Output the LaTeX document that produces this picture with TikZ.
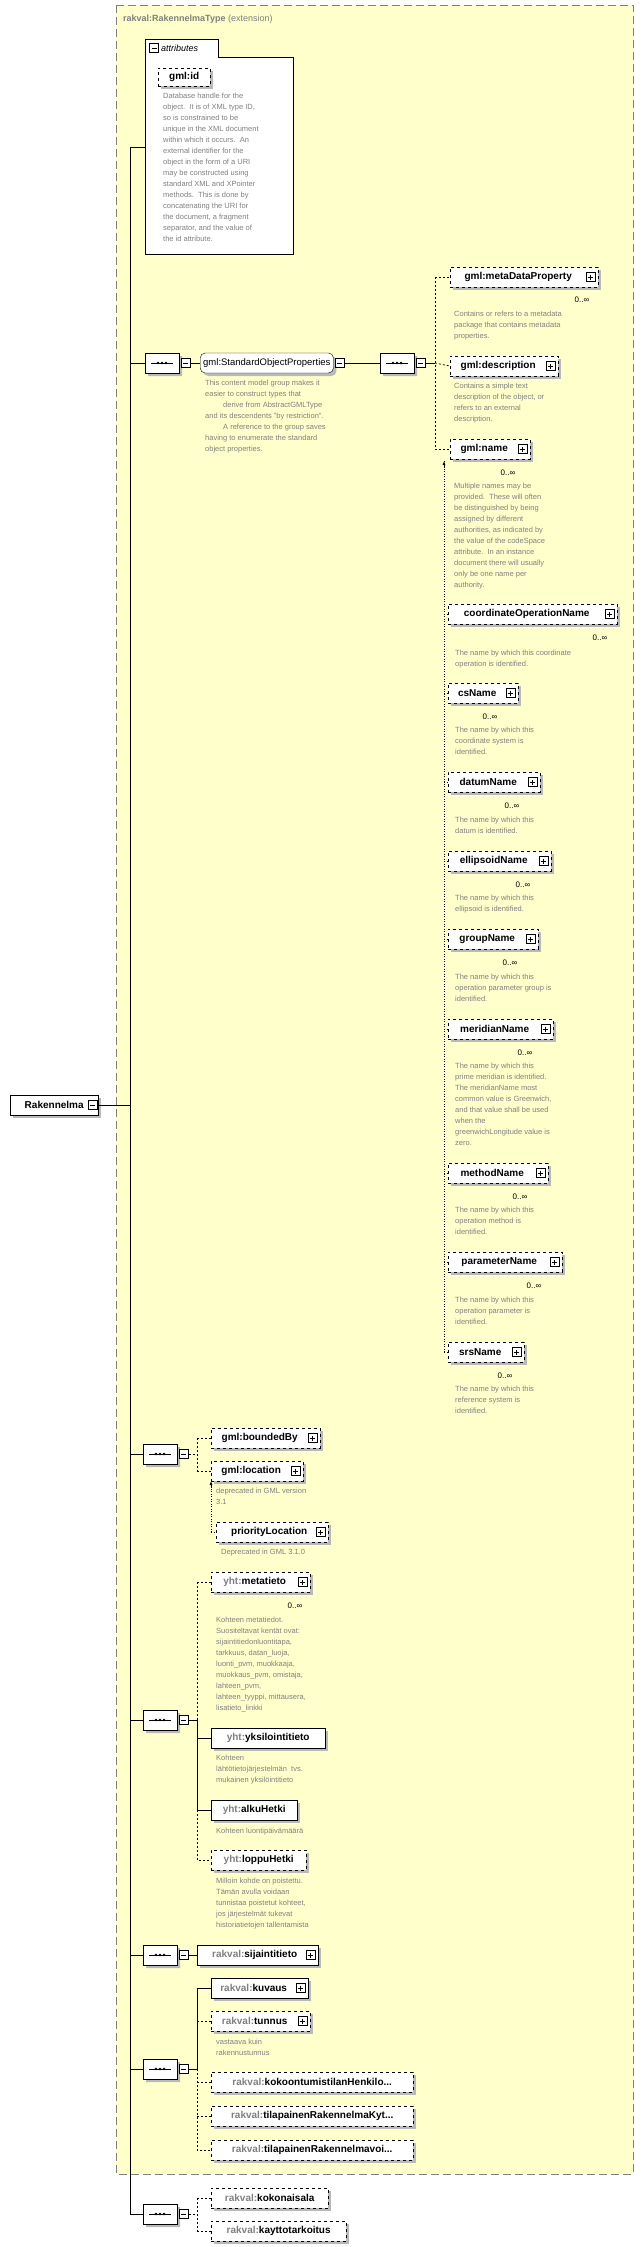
\documentclass[tikz,border=0pt]{standalone}
\usepackage{fontspec}
\setmainfont{Liberation Sans}
\usetikzlibrary{shapes.misc,shadows,positioning,arrows.meta}
\definecolor{ybg}{RGB}{255,255,204}
\definecolor{dgray}{RGB}{128,128,128}
\definecolor{pgray}{RGB}{128,128,128}
\newcommand\pf[1]{\textcolor{pgray}{#1}}
\tikzset{
 shd/.style={drop shadow={shadow xshift=3pt,shadow yshift=-3pt,fill=gray!55,opacity=1}},
 el/.style={draw,fill=white,shd,minimum height=20pt,inner sep=3pt,anchor=west,align=left,font=\fontsize{10}{12}\selectfont\bfseries},
 opt/.style={dashed},
 dsc/.style={anchor=north west,align=left,inner sep=0pt,text=dgray,font=\fontsize{7.5}{11}\selectfont},
 mult/.style={anchor=center,inner sep=0pt,font=\fontsize{8}{9}\selectfont},
 seq/.style={chamfered rectangle,chamfered rectangle xsep=4pt,chamfered rectangle ysep=0pt,draw,fill=white,shd,minimum width=34pt,minimum height=20pt,inner sep=0pt,
   path picture={\draw ([xshift=6pt]path picture bounding box.west)--([xshift=-6pt]path picture bounding box.east);
     \fill[black] (path picture bounding box.center) circle (1.4pt);
     \fill[black] ([xshift=-4pt]path picture bounding box.center) circle (1.4pt);
     \fill[black] ([xshift=4pt]path picture bounding box.center) circle (1.4pt);}},
 mbox/.style={draw,fill=white,minimum size=9pt,inner sep=0pt,path picture={\draw ([xshift=2pt]path picture bounding box.west)--([xshift=-2pt]path picture bounding box.east);}},
 pbox/.style={draw,fill=white,minimum size=9pt,inner sep=0pt,path picture={\draw ([xshift=2pt]path picture bounding box.west)--([xshift=-2pt]path picture bounding box.east);\draw ([yshift=-2pt]path picture bounding box.north)--([yshift=2pt]path picture bounding box.south);}},
 ln/.style={draw,line width=0.8pt},
 dln/.style={draw,dash pattern=on 2pt off 2pt,line width=0.7pt},
}
\newcommand\el[6]{\node[el,#5,minimum width=#4pt] (#1) at (#3,#2) {#6};}
\newcommand\elp[6]{\node[el,#5,minimum width=#4pt] (#1) at (#3,#2) {#6};\node[pbox] (#1p) at ([xshift=-8pt]#1.east) {};}
\newcommand\sq[3]{\node[seq] (#1) at (#2,#3) {};\node[mbox,right=2pt of #1] (#1m) {};}
\begin{document}
\begin{tikzpicture}[x=1pt,y=-1pt]
\useasboundingbox (0,0) rectangle (644,2247);
\fill[ybg] (116,5) rectangle (633,2174);
\draw[dgray,dash pattern=on 8pt off 4pt,line width=0.8pt] (116,5) rectangle (633,2174);
\node[anchor=west,inner sep=0pt,font=\fontsize{9}{10}\selectfont,text=dgray] (title) at (123,19) {\textbf{rakval:RakennelmaType} (extension)};
\node[el,minimum width=88pt] (root) at (10,1105) {Rakennelma};
\node[mbox] (rootm) at ([xshift=-6pt]root.east) {};
\coordinate (tr) at (130,1105);
\coordinate (ttop) at (130,147);
\coordinate (tbot) at (130,2214);
\draw[ln] (rootm.east) -- (tr);
\draw[ln] (ttop) -- (tbot);
\draw[fill=white,line width=0.8pt] (145,254) -- (145,39) -- (218,39) -- (218,57) -- (293,57) -- (293,254) -- cycle;
\node[mbox] (am) at (154,48) {};
\node[anchor=west,inner sep=0pt,font=\fontsize{9}{10}\selectfont\itshape] (atxt) at (161,48) {attributes};
\node[el,opt,minimum width=52pt,minimum height=18pt] (gid) at (158,77) {gml:id};
\node[dsc] (gidd) at (163,93) {Database handle for the\\object.\ \ It is of XML type ID,\\so is constrained to be\\unique in the XML document\\within which it occurs.\ \ An\\external identifier for the\\object in the form of a URI\\may be constructed using\\standard XML and XPointer\\methods.\ \ This is done by\\concatenating the URI for\\the document, a fragment\\separator, and the value of\\the id attribute.};
\coordinate (ta) at (130,147);
\draw[ln] (ta) -- (145,147);
\coordinate (t1) at (130,363);
\sq{s1}{162}{363}
\draw[ln] (t1) -- (s1.west);
\node[draw,fill=white,shd,rounded corners=5pt,minimum height=20pt,anchor=west,font=\fontsize{9.5}{11}\selectfont,inner sep=3pt] (sop) at (200,363) {gml:StandardObjectProperties};
\node[mbox,right=1pt of sop] (sopm) {};
\draw[ln] (s1m.east) -- (sop.west);
\node[dsc] (sopd) at (205,380) {This content model group makes it\\easier to construct types that\\\hspace*{18pt}derive from AbstractGMLType\\and its descendents "by restriction".\\\hspace*{18pt}A reference to the group saves\\having to enumerate the standard\\object properties.};
\sq{s2}{397}{363}
\draw[ln] (sopm.east) -- (s2.west);
\coordinate (c2) at (435,363);
\draw[ln] (s2m.east) -- (c2);
\elp{md}{277}{450}{148}{opt}{gml:metaDataProperty\hspace*{12pt}}
\elp{de}{366}{450}{108}{opt}{gml:description\hspace*{12pt}}
\elp{nm}{449}{450}{80}{opt}{gml:name\hspace*{12pt}}
\coordinate (c2t) at (435,277); \coordinate (c2b) at (435,449);
\draw[dln] (c2t) -- (c2b);
\draw[dln] (c2t) -- (md.west); \draw[dln] (c2b) -- (nm.west); \draw[dln] (c2) -- (de.west);
\node[mult] (mdm) at (582,300) {0..∞};
\node[dsc] (mdd) at (454,311) {Contains or refers to a metadata\\package that contains metadata\\properties.};
\node[dsc] (ded) at (454,383) {Contains a simple text\\description of the object, or\\refers to an external\\description.};
\node[mult] (nmm) at (508,473) {0..∞};
\node[dsc] (nmd) at (454,483) {Multiple names may be\\provided.\ \ These will often\\be distinguished by being\\assigned by different\\authorities, as indicated by\\the value of the codeSpace\\attribute.\ \ In an instance\\document there will usually\\only be one name per\\authority.};
\coordinate (subt) at (444,461); \coordinate (subb) at (444,1352);
\draw[dln,dash pattern=on 1pt off 1.5pt] (subt) -- (subb);
\draw[-{Latex[length=4pt]},line width=0.7pt] (444,468) -- (subt);
\newcommand\sub[5]{\elp{#1}{#2}{448}{#3}{opt}{#4\hspace*{12pt}}\node[mult] (#1m) at (#5,#2+24) {0..∞};\draw[dln,dash pattern=on 1pt off 1.5pt] (444,#2) -- (#1.west);}
\sub{co}{614}{169}{coordinateOperationName}{600}
\node[dsc] (cod) at (455,650) {The name by which this coordinate\\operation is identified.};
\sub{cs}{693}{70}{csName}{490}
\node[dsc] (csd) at (455,727) {The name by which this\\coordinate system is\\identified.};
\sub{da}{782}{92}{datumName}{512}
\node[dsc] (dad) at (455,817) {The name by which this\\datum is identified.};
\sub{ep}{861}{103}{ellipsoidName}{523}
\node[dsc] (epd) at (455,895) {The name by which this\\ellipsoid is identified.};
\sub{gr}{939}{90}{groupName}{510}
\node[dsc] (grd) at (455,974) {The name by which this\\operation parameter group is\\identified.};
\sub{me}{1029}{105}{meridianName}{525}
\node[dsc] (med) at (455,1063) {The name by which this\\prime meridian is identified.\\The meridianName most\\common value is Greenwich,\\and that value shall be used\\when the\\greenwichLongitude value is\\zero.};
\sub{mt}{1173}{100}{methodName}{520}
\node[dsc] (mtd) at (455,1207) {The name by which this\\operation method is\\identified.};
\sub{pa}{1262}{114}{parameterName}{534}
\node[dsc] (pad) at (455,1297) {The name by which this\\operation parameter is\\identified.};
\sub{sr}{1352}{76}{srsName}{505}
\node[dsc] (srd) at (455,1386) {The name by which this\\reference system is\\identified.};
\coordinate (t3) at (130,1454);
\sq{s3}{160}{1454}
\draw[ln] (t3) -- (s3.west);
\coordinate (j3) at (197,1454);
\draw[dln] (s3m.east) -- (j3);
\elp{bb}{1438}{211}{109}{opt}{gml:boundedBy\hspace*{12pt}}
\elp{lo}{1471}{211}{92}{opt}{gml:location\hspace*{12pt}}
\draw[dln] (197,1438) -- (197,1471); \draw[dln] (197,1438) -- (bb.west); \draw[dln] (197,1471) -- (lo.west);
\node[dsc] (lod) at (216,1488) {deprecated in GML version\\3.1};
\elp{pl}{1532}{216}{112}{opt}{\hspace*{6pt}priorityLocation\hspace*{12pt}}
\draw[dln,dash pattern=on 1pt off 1.5pt] (211,1532) -- (pl.west);
\draw[dln,dash pattern=on 1pt off 1.5pt] (211,1532) -- (211,1486);
\draw[-{Latex[length=4pt]},line width=0.7pt] (211,1488) -- (211,1481);
\node[dsc] (pld) at (221,1549) {Deprecated in GML 3.1.0};
\coordinate (t4) at (130,1720);
\sq{s4}{160}{1720}
\draw[ln] (t4) -- (s4.west);
\coordinate (j4) at (197,1720);
\draw[ln] (s4m.east) -- (j4);
\elp{mt2}{1582}{211}{99}{opt}{\pf{yht:}metatieto\hspace*{12pt}}
\node[mult] (mt2m) at (295,1606) {0..∞};
\node[dsc] (mt2d) at (216,1617) {Kohteen metatiedot.\\Suositeltavat kentät ovat:\\sijaintitiedonluontitapa,\\tarkkuus, datan\_luoja,\\luonti\_pvm, muokkaaja,\\muokkaus\_pvm, omistaja,\\lahteen\_pvm,\\lahteen\_tyyppi, mittausera,\\lisatieto\_linkki};
\el{yk}{1738}{211}{114}{}{\pf{yht:}yksilointitieto}
\node[dsc] (ykd) at (216,1755) {Kohteen\\lähtötietojärjestelmän\ \ tvs.\\mukainen yksilöintitieto};
\el{al}{1810}{211}{86}{}{\pf{yht:}alkuHetki}
\node[dsc] (ald) at (216,1828) {Kohteen luontipäivämäärä};
\el{lp}{1860}{211}{95}{opt}{\pf{yht:}loppuHetki}
\node[dsc] (lpd) at (216,1878) {Milloin kohde on poistettu.\\Tämän avulla voidaan\\tunnistaa poistetut kohteet,\\jos järjestelmät tukevat\\historiatietojen tallentamista};
\draw[dln] (197,1582) -- (197,1720); \draw[dln] (197,1582) -- (mt2.west);
\draw[ln] (197,1720) -- (197,1810); \draw[ln] (197,1738) -- (yk.west); \draw[ln] (197,1810) -- (al.west);
\draw[dln] (197,1810) -- (197,1860) -- (lp.west);
\coordinate (t5) at (130,1955);
\sq{s5}{160}{1955}
\draw[ln] (t5) -- (s5.west);
\elp{si}{1955}{197}{121}{}{\hspace*{6pt}\pf{rakval:}sijaintitieto\hspace*{12pt}}
\draw[ln] (s5m.east) -- (si.west);
\coordinate (t6) at (130,2069);
\sq{s6}{160}{2069}
\draw[ln] (t6) -- (s6.west);
\coordinate (j6) at (197,2069);
\draw[ln] (s6m.east) -- (j6);
\elp{ku}{1988}{211}{97}{}{\pf{rakval:}kuvaus\hspace*{12pt}}
\elp{tu}{2021}{211}{99}{opt}{\pf{rakval:}tunnus\hspace*{12pt}}
\node[dsc] (tud) at (216,2039) {vastaava kuin\\rakennustunnus};
\el{ko}{2082}{211}{202}{opt}{\pf{rakval:}kokoontumistilanHenkilo...}
\el{tk}{2116}{211}{202}{opt}{\pf{rakval:}tilapainenRakennelmaKyt...}
\el{tv}{2150}{211}{202}{opt}{\pf{rakval:}tilapainenRakennelmavoi...}
\draw[ln] (197,2069) -- (197,1988) -- (ku.west);
\draw[dln] (197,2021) -- (tu.west);
\draw[dln] (197,2069) -- (197,2150) -- (tv.west);
\draw[dln] (197,2082) -- (ko.west); \draw[dln] (197,2116) -- (tk.west);
\sq{s7}{160}{2214}
\draw[ln] (tbot) -- (s7.west);
\coordinate (j7) at (197,2214);
\draw[dln] (s7m.east) -- (j7);
\el{kk}{2198}{211}{117}{opt}{\pf{rakval:}kokonaisala}
\el{kt}{2231}{211}{135}{opt}{\pf{rakval:}kayttotarkoitus}
\draw[dln] (197,2198) -- (197,2231);
\draw[dln] (197,2198) -- (kk.west); \draw[dln] (197,2231) -- (kt.west);
\end{tikzpicture}
\end{document}
